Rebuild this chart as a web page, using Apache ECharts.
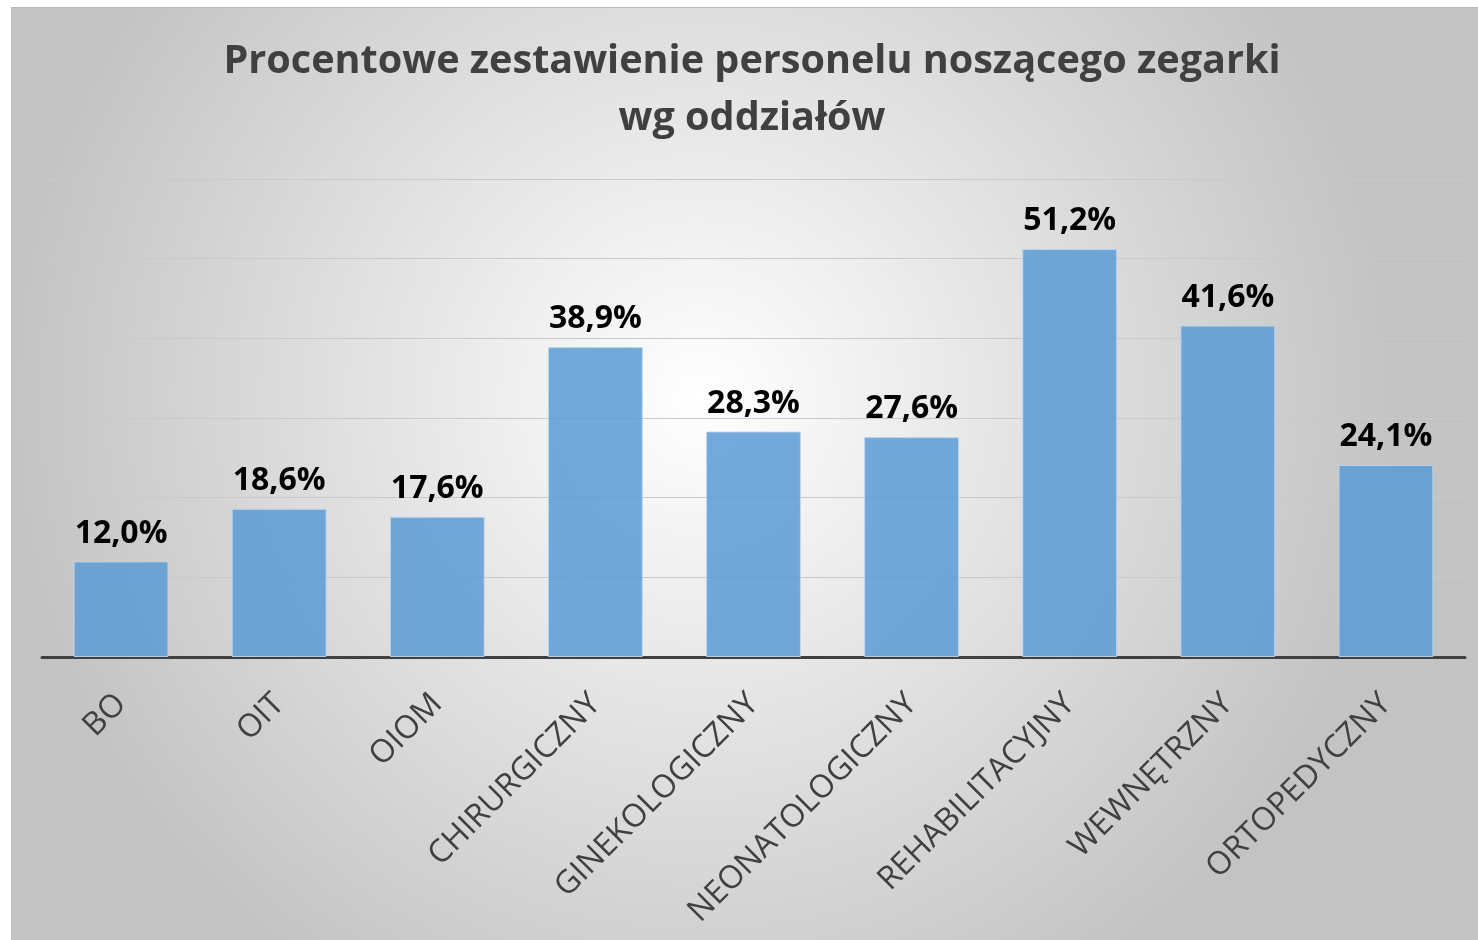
<!DOCTYPE html>
<html>
<head>
<meta charset="utf-8">
<script src="https://cdn.jsdelivr.net/npm/echarts@6/dist/echarts.min.js"></script>
<style>
  html, body { margin: 0; padding: 0; background: #fff; }
  #chart {
    position: absolute; left: 11px; top: 7px;
    width: 1467px; height: 933px;
    border-top: 1px solid #b8b8b8; border-left: 1px solid #c0c0c0;
    box-sizing: border-box;
  }
</style>
</head>
<body>
<div id="chart"></div>
<script>
const categories = ['BO', 'OIT', 'OIOM', 'CHIRURGICZNY', 'GINEKOLOGICZNY', 'NEONATOLOGICZNY', 'REHABILITACYJNY', 'WEWNĘTRZNY', 'ORTOPEDYCZNY']
const percentValues = [12.0, 18.6, 17.6, 38.9, 28.3, 27.6, 51.2, 41.6, 24.1]
const titleLines = ['Procentowe zestawienie personelu noszącego zegarki', 'wg oddziałów']

const chart = echarts.init(document.getElementById('chart'))

chart.setOption({
  backgroundColor: {
    type: 'radial', x: 0.47, y: 0.42, r: 0.75,
    colorStops: [
      { offset: 0, color: '#ffffff' },
      { offset: 1, color: '#c3c3c3' }
    ]
  },
  textStyle: { fontFamily: 'Open Sans' },
  title: {
    text: titleLines.join('\n'),
    left: 735,
    textAlign: 'center',
    top: 20,
    textStyle: {
      fontFamily: 'Open Sans',
      fontSize: 39.6,
      fontWeight: 'bold',
      color: '#404040',
      lineHeight: 57
    }
  },
  grid: {
    left: 30,
    right: 13,
    top: 171,
    bottom: 283
  },
  xAxis: {
    type: 'category',
    data: categories,
    axisLine: { lineStyle: { color: '#404040', width: 3 } },
    axisTick: { show: false },
    axisLabel: {
      rotate: 45,
      margin: 42,
      fontSize: 32,
      color: '#404040',
      fontFamily: 'Open Sans',
      interval: 0
    }
  },
  yAxis: {
    type: 'value',
    min: 0,
    max: 60,
    interval: 10,
    axisLabel: { show: false },
    axisLine: { show: false },
    axisTick: { show: false },
    splitLine: { lineStyle: { color: '#c9c9c9', width: 1 } }
  },
  series: [{
    type: 'bar',
    data: percentValues,
    barCategoryGap: '40%',
    itemStyle: {
      color: 'rgba(91, 155, 213, 0.85)',
      borderColor: 'rgba(189, 215, 238, 0.9)',
      borderWidth: 1
    },
    label: {
      show: true,
      position: 'top',
      distance: 12,
      fontSize: 32,
      fontWeight: 'bold',
      color: '#000',
      fontFamily: 'Open Sans',
      formatter: p => p.value.toFixed(1).replace('.', ',') + '%'
    }
  }]
})
</script>
</body>
</html>
